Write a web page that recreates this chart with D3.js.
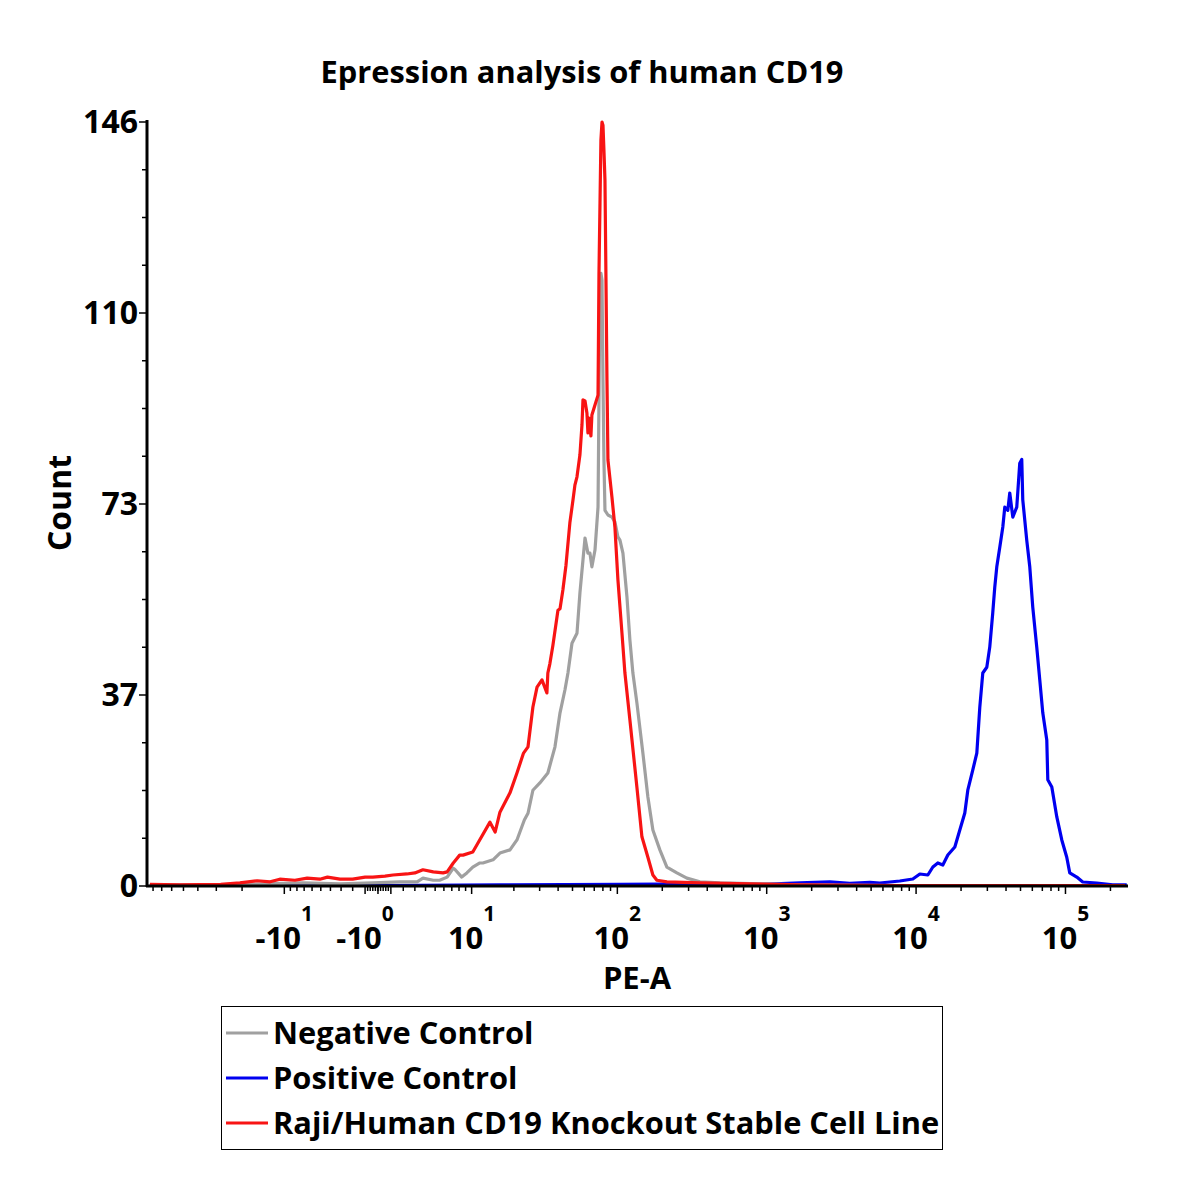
<!DOCTYPE html>
<html>
<head>
<meta charset="utf-8">
<script src="https://cdn.jsdelivr.net/npm/d3@7"></script>
<style>
  html, body { margin: 0; padding: 0; background: #fff; }
  text { font-family: "Open Sans", Lato, sans-serif; font-weight: 700; fill: #000; }
</style>
</head>
<body>
<svg id="chart" width="1200" height="1200"></svg>
<script>
// ---------------- data (PE-A intensity, count) ----------------
const chartTitle = "Epression analysis of human CD19";
const xTitle = "PE-A";
const yTitle = "Count";
const seriesNames = ["Negative Control", "Positive Control", "Raji/Human CD19 Knockout Stable Cell Line"];
const seriesColors = ["#a0a0a0", "#0000f0", "#f81414"];

const negativeControl = [[-84,0.2],[-40,0.2],[-20,0.3],[-7.2,0.6],[-3.1,0.4],[-0.4,0.6],[1.7,0.8],[2.3,0.8],[3.2,0.8],[3.75,1.5],[4.8,1.1],[5.5,1.1],[6.4,1.7],[7.2,3.4],[7.4,3.2],[8.4,1.7],[9.2,2.5],[10.2,3.6],[11.5,4.4],[12.1,4.4],[14.3,5.0],[16.0,6.3],[18.8,6.9],[21.0,8.8],[23.6,12.6],[25.0,13.9],[27.0,18.3],[30.1,19.7],[34.1,21.6],[38.1,26.6],[41.2,33.1],[44.5,37.5],[46.6,40.7],[49.6,46.4],[53.6,48.3],[56.1,56.0],[58.8,62.3],[60.7,66.5],[63.5,63.6],[65.5,63.6],[67.5,61.0],[70.8,64.2],[74.2,72.4],[75.3,92.9],[76.5,113.9],[77.6,117.1],[78.9,115.8],[80.1,96.7],[81.3,81.4],[82.6,71.8],[86.5,70.9],[92.0,70.5],[96.3,69.6],[100.9,66.7],[104.1,66.1],[109.0,63.6],[116.0,55.2],[121.4,47.0],[127.1,40.7],[135.2,35.0],[148.3,25.4],[160.2,17.0],[173.0,10.7],[192.7,6.9],[214.7,3.6],[250.5,2.5],[292,1.5],[357,0.8],[486,0.6],[900,0.4],[1668,0.2],[7780,0.1],[250000,0.1]];

const positiveControl = [[-84,0.1],[-20,0.2],[0,0.1],[16,0.2],[104,0.3],[357,0.4],[900,0.3],[1668,0.6],[2647,0.8],[3600,0.5],[4905,0.7],[5720,0.57],[7780,0.96],[9510,1.34],[10600,2.29],[11990,2.10],[12950,3.63],[13980,4.40],[15100,4.01],[16310,5.92],[18170,7.45],[19620,10.7],[21190,13.95],[22190,18.3],[23970,22.2],[25500,25.4],[26700,34.2],[27950,40.7],[29740,41.8],[31140,45.7],[32600,52.2],[33630,57.1],[34690,61.0],[36350,64.8],[38070,68.6],[39240,72.4],[41120,71.8],[42370,75.1],[44400,70.5],[47200,72.4],[49430,80.8],[50980,81.5],[51780,73.8],[55040,66.1],[57680,61.0],[60400,53.3],[64210,45.7],[67290,39.4],[70480,33.1],[74970,27.9],[76150,20.3],[81010,18.9],[87490,13.2],[94480,8.8],[102000,5.5],[106800,2.5],[119000,1.7],[130500,0.76],[162000,0.57],[207200,0.2],[257100,0.2]];

const rajiKnockout = [[-84,0.3],[-53,0.2],[-28,0.3],[-20.7,0.6],[-15.7,1.0],[-12.7,0.8],[-10.8,1.3],[-8.3,1.1],[-6.6,1.5],[-5.1,1.3],[-4.3,1.7],[-3.1,1.3],[-2.0,1.3],[-1.0,1.7],[-0.4,1.7],[0.54,1.9],[1.17,2.1],[2.3,2.3],[3.0,2.5],[3.75,3.1],[4.8,2.7],[5.9,2.5],[6.4,2.7],[7.2,4.4],[8.1,5.9],[8.6,5.9],[10.2,6.5],[10.9,7.8],[13.6,12.2],[14.8,10.3],[16.0,14.1],[18.8,17.8],[21.0,21.6],[23.3,25.4],[25.0,26.6],[27.0,34.2],[28.8,38.0],[31.1,39.4],[33.6,36.9],[34.1,40.7],[35.2,42.5],[36.9,46.0],[39.9,52.7],[41.2,53.0],[43.1,56.6],[45.2,61.3],[48.0,69.4],[50.4,73.8],[51.9,76.6],[53.6,78.2],[56.1,82.4],[57.9,88.1],[58.8,92.9],[60.7,92.7],[62.5,90.4],[63.5,86.6],[64.5,89.4],[66.5,86.0],[67.5,90.0],[70.8,91.9],[74.2,93.8],[75.3,117.1],[76.5,130.5],[77.6,142.6],[78.9,146],[80.1,145.4],[81.3,140.6],[82.6,134.9],[83.9,115.8],[85.2,96.7],[86.5,81.4],[92.0,74.3],[96.3,68.6],[100.9,58.5],[107.4,48.3],[112.4,40.7],[121.4,31.7],[135.2,18.9],[146.1,9.4],[160.2,5.5],[173.0,2.1],[184.0,1.1],[214.7,0.8],[357,0.6],[771,0.4],[1668,0.2],[7780,0.1],[50000,0.1],[250000,0.1]];

// axis definitions
const xDomain = [-86.5, 262144];
const xMajorTicks = [-10, -1, 0, 1, 10, 100, 1000, 10000, 100000];
const xTickLabels = [[-10, "-10", "1"], [-1, "-10", "0"], [10, "10", "1"], [100, "10", "2"], [1000, "10", "3"], [10000, "10", "4"], [100000, "10", "5"]];
const yMax = 146;
const yTickLabels = ["0", "37", "73", "110", "146"];

// ---------------- drawing ----------------
const svg = d3.select("#chart");
const plot = {left: 148, right: 1128, top: 122, bottom: 886};
const biexW = 5; // linear-region width of the biexponential display
const xLin = d3.scaleLinear()
  .domain(xDomain.map(v => Math.asinh(v / biexW)))
  .range([plot.left, plot.right]);
const x = v => xLin(Math.asinh(v / biexW));
const y = d3.scaleLinear().domain([0, yMax]).range([plot.bottom, plot.top]);

// minor x ticks
const xMinor = [];
for (let k = 1; k <= 5; k++) {
  const base = Math.pow(10, k - 1);
  for (let m = 2; m <= 9; m++) {
    const v = m * base;
    if (v <= xDomain[1]) xMinor.push(v);
    if (-v >= xDomain[0]) xMinor.push(-v);
  }
}
for (let m = 2; m <= 9; m++) { if (m * 1e5 <= xDomain[1]) xMinor.push(m * 1e5); }
for (let m = -0.8; m <= 0.81; m += 0.2) xMinor.push(m);

// curves
const line = d3.line().x(d => x(d[0])).y(d => y(d[1])).curve(d3.curveLinear);
const series = [positiveControl, negativeControl, rajiKnockout];
const seriesColorOrder = [seriesColors[1], seriesColors[0], seriesColors[2]];
svg.append("g").selectAll("path").data(series).join("path")
  .attr("d", line)
  .attr("fill", "none")
  .attr("stroke", (d, i) => seriesColorOrder[i])
  .attr("stroke-width", 3.2)
  .attr("stroke-linejoin", "round");

// y axis
const yAxisG = svg.append("g");
yAxisG.append("line")
  .attr("x1", plot.left - 1).attr("x2", plot.left - 1)
  .attr("y1", plot.top - 2).attr("y2", plot.bottom + 1)
  .attr("stroke", "#000").attr("stroke-width", 3);
const yMinorVals = d3.range(0, 17).map(i => i * yMax / 16);
yAxisG.selectAll("line.minor").data(yMinorVals).join("line")
  .attr("class", "minor")
  .attr("x1", plot.left - 2).attr("x2", (d, i) => i % 4 === 0 ? plot.left - 9 : plot.left - 6)
  .attr("y1", d => y(d)).attr("y2", d => y(d))
  .attr("stroke", "#000").attr("stroke-width", 1.5);
yAxisG.selectAll("text").data(yTickLabels).join("text")
  .attr("x", plot.left - 10)
  .attr("y", (d, i) => y(i * yMax / 4) + 11)
  .attr("text-anchor", "end")
  .attr("font-size", 32)
  .text(d => d);

// x axis
const xAxisG = svg.append("g");
xAxisG.append("line")
  .attr("x1", plot.left - 2).attr("x2", plot.right)
  .attr("y1", plot.bottom).attr("y2", plot.bottom)
  .attr("stroke", "#000").attr("stroke-width", 3);
xAxisG.selectAll("line.minor").data(xMinor).join("line")
  .attr("class", "minor")
  .attr("x1", d => x(d)).attr("x2", d => x(d))
  .attr("y1", plot.bottom).attr("y2", plot.bottom + 5)
  .attr("stroke", "#000").attr("stroke-width", 1.5);
xAxisG.selectAll("line.major").data(xMajorTicks).join("line")
  .attr("class", "major")
  .attr("x1", d => x(d)).attr("x2", d => x(d))
  .attr("y1", plot.bottom).attr("y2", plot.bottom + 8)
  .attr("stroke", "#000").attr("stroke-width", 1.5);
const xl = xAxisG.selectAll("text").data(xTickLabels).join("text")
  .attr("x", d => x(d[0]))
  .attr("y", 949)
  .attr("text-anchor", "middle")
  .attr("font-size", 31);
xl.append("tspan").text(d => d[1]);
xl.append("tspan").attr("dy", -28).attr("font-size", 21).text(d => d[2]);

// titles
svg.append("text").attr("x", 582).attr("y", 83).attr("text-anchor", "middle")
  .attr("font-size", 30.8).text(chartTitle);
svg.append("text").attr("x", 637).attr("y", 989).attr("text-anchor", "middle")
  .attr("font-size", 31).text(xTitle);
svg.append("text").attr("transform", "translate(71,503) rotate(-90)")
  .attr("text-anchor", "middle").attr("font-size", 32).text(yTitle);

// legend
const lg = svg.append("g");
lg.append("rect").attr("x", 221.5).attr("y", 1006.5).attr("width", 721).attr("height", 143)
  .attr("fill", "#fff").attr("stroke", "#000").attr("stroke-width", 1);
const items = lg.selectAll("g.item").data(seriesNames).join("g").attr("class", "item")
  .attr("transform", (d, i) => `translate(0,${1033 + i * 45})`);
items.append("line").attr("x1", 226).attr("x2", 268).attr("y1", 0).attr("y2", 0)
  .attr("stroke", (d, i) => seriesColors[i]).attr("stroke-width", 3);
items.append("text").attr("x", 273).attr("y", 11).attr("font-size", 30.8).text(d => d);
</script>
</body>
</html>
